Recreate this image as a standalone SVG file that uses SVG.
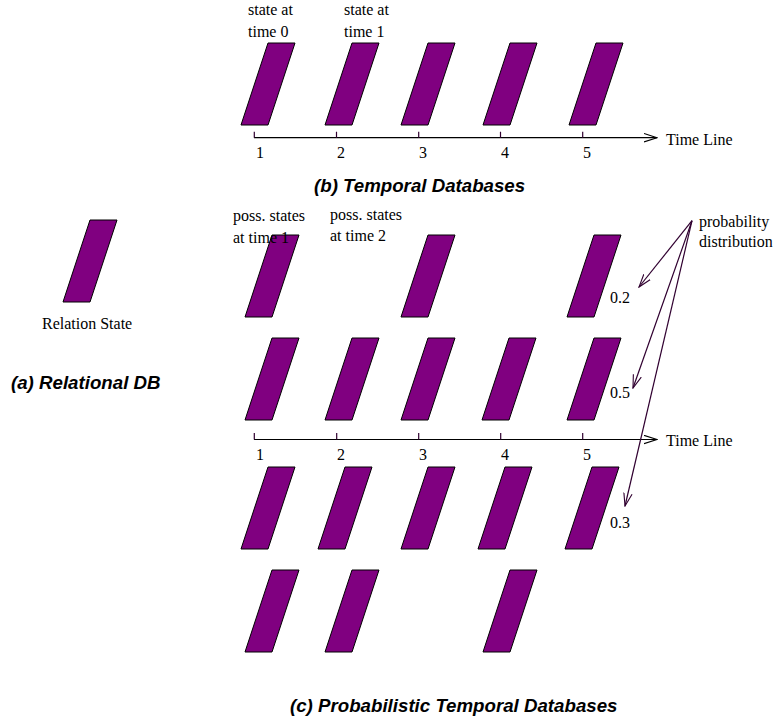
<svg xmlns="http://www.w3.org/2000/svg" width="777" height="721" viewBox="0 0 777 721">
  <style>
    .st { fill: #800080; stroke: #000; stroke-width: 1; }
    .lbl { font-family: "Liberation Serif", "Times New Roman", serif; font-size: 16px; fill: #000; }
    .ttl { font-family: "Liberation Sans", Arial, sans-serif; font-size: 18.7px; font-weight: bold; font-style: italic; fill: #000; }
    .axis { stroke: #000; stroke-width: 1.2; fill: none; }
    .tick { stroke: #300030; stroke-width: 1.2; fill: none; }
    .ptr { stroke: #300030; stroke-width: 1.2; fill: none; }
  </style>
  <defs>
    <!-- one relation state: slanted parallelogram, origin at bottom-left x / top y -->
    <polygon id="state" class="st" points="27,0 54,0 27,82 0,82"/>
    <marker id="openArrow" viewBox="0 0 14 10" refX="13" refY="5" markerWidth="14" markerHeight="10" markerUnits="userSpaceOnUse" orient="auto">
      <path d="M0,0.8 L13,5 L0,9.2" fill="none" stroke="#000" stroke-width="1.1"/>
    </marker>
    <marker id="ptrArrow" viewBox="0 0 14 10" refX="13" refY="5" markerWidth="14" markerHeight="10" markerUnits="userSpaceOnUse" orient="auto">
      <path d="M0,0.8 L13,5 L0,9.2" fill="none" stroke="#300030" stroke-width="1.1"/>
    </marker>
  </defs>

  <!-- (a) relational database: a single state -->
  <g id="relational">
    <use href="#state" x="63" y="220"/>
    <text class="lbl" x="42" y="329">Relation State</text>
    <text class="ttl" x="11" y="389">(a) Relational DB</text>
  </g>

  <!-- (b) temporal database: one state per time point -->
  <g id="temporal">
    <g id="t-state-1"><use href="#state" x="241" y="43"/></g>
    <g id="t-state-2"><use href="#state" x="325" y="43"/></g>
    <g id="t-state-3"><use href="#state" x="401" y="43"/></g>
    <g id="t-state-4"><use href="#state" x="483" y="43"/></g>
    <g id="t-state-5"><use href="#state" x="569" y="43"/></g>
    <text class="lbl" x="248" y="15">state at</text>
    <text class="lbl" x="248" y="37">time 0</text>
    <text class="lbl" x="344" y="15">state at</text>
    <text class="lbl" x="344" y="37">time 1</text>
    <text class="lbl" x="256" y="158">1</text>
    <text class="lbl" x="337" y="158">2</text>
    <text class="lbl" x="419" y="158">3</text>
    <text class="lbl" x="501" y="158">4</text>
    <text class="lbl" x="583" y="158">5</text>
    <text class="lbl" x="666" y="145">Time Line</text>
    <text class="ttl" x="314" y="192">(b) Temporal Databases</text>
  </g>

  <!-- (c) probabilistic temporal database: several possible states per time point -->
  <g id="probabilistic">
    <g id="p-r1-c1"><use href="#state" x="245" y="235"/></g>
    <g id="p-r1-c3"><use href="#state" x="401" y="235"/></g>
    <g id="p-r1-c5"><use href="#state" x="567" y="235"/></g>
    <g id="p-r2-c1"><use href="#state" x="245" y="338"/></g>
    <g id="p-r2-c2"><use href="#state" x="325" y="338"/></g>
    <g id="p-r2-c3"><use href="#state" x="401" y="338"/></g>
    <g id="p-r2-c4"><use href="#state" x="482" y="338"/></g>
    <g id="p-r2-c5"><use href="#state" x="567" y="338"/></g>
    <g id="p-r3-c1"><use href="#state" x="241" y="467"/></g>
    <g id="p-r3-c2"><use href="#state" x="318" y="467"/></g>
    <g id="p-r3-c3"><use href="#state" x="401" y="467"/></g>
    <g id="p-r3-c4"><use href="#state" x="478" y="467"/></g>
    <g id="p-r3-c5"><use href="#state" x="565" y="467"/></g>
    <g id="p-r4-c1"><use href="#state" x="245" y="570"/></g>
    <g id="p-r4-c2"><use href="#state" x="325" y="570"/></g>
    <g id="p-r4-c4"><use href="#state" x="483" y="570"/></g>
    <text class="lbl" x="233" y="221">poss. states</text>
    <text class="lbl" x="233" y="243">at time 1</text>
    <text class="lbl" x="330" y="220">poss. states</text>
    <text class="lbl" x="330" y="241">at time 2</text>
    <text class="lbl" x="256" y="460">1</text>
    <text class="lbl" x="337" y="460">2</text>
    <text class="lbl" x="419" y="460">3</text>
    <text class="lbl" x="501" y="460">4</text>
    <text class="lbl" x="583" y="460">5</text>
    <text class="lbl" x="666" y="446">Time Line</text>
    <text class="lbl" x="699" y="227">probability</text>
    <text class="lbl" x="699" y="247">distribution</text>
    <text class="lbl" x="610" y="303">0.2</text>
    <text class="lbl" x="610" y="398">0.5</text>
    <text class="lbl" x="610" y="528">0.3</text>
    <text class="ttl" x="290" y="712">(c) Probabilistic Temporal Databases</text>
  </g>

  <!-- connectors: time axes, ticks and probability pointers -->
  <g id="connectors">
    <line class="axis" x1="254" y1="137.7" x2="657" y2="137.7" marker-end="url(#openArrow)"/>
    <path class="tick" d="M254.3,131.7V137.7 M336.5,131.7V137.7 M418.7,131.7V137.7 M500.5,131.7V137.7 M582.7,131.7V137.7"/>
    <line class="axis" x1="254" y1="439.5" x2="657" y2="439.5" marker-end="url(#openArrow)"/>
    <path class="tick" d="M254.3,433V439.5 M336.7,433V439.5 M418.7,433V439.5 M500.7,433V439.5 M582.7,433V439.5"/>
    <line class="ptr" x1="692" y1="220.7" x2="639" y2="287" marker-end="url(#ptrArrow)"/>
    <line class="ptr" x1="692" y1="220.7" x2="633" y2="388" marker-end="url(#ptrArrow)"/>
    <line class="ptr" x1="692" y1="220.7" x2="625" y2="506" marker-end="url(#ptrArrow)"/>
  </g>
</svg>
